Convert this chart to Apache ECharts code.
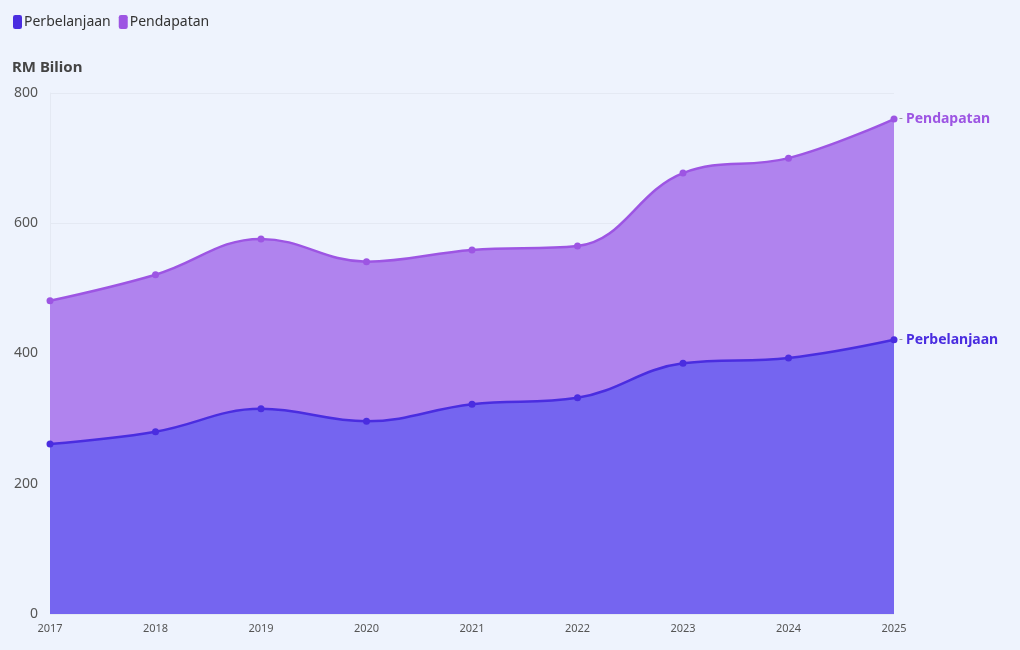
<!DOCTYPE html>
<html>
<head>
<meta charset="utf-8">
<script src="https://cdn.jsdelivr.net/npm/echarts@6/dist/echarts.min.js"></script>
<style>
  html, body { margin: 0; padding: 0; background: #eef3fd; }
  #chart { width: 1020px; height: 650px; }
</style>
</head>
<body>
<div id="chart"></div>
<script>
// values in RM billion
const years = ['2017', '2018', '2019', '2020', '2021', '2022', '2023', '2024', '2025'];
const perbelanjaan = [261, 280, 315, 296, 322, 332, 385, 393, 421];
// stacked on top of perbelanjaan
const pendapatan = [220, 241, 261, 245, 237, 233, 292, 307, 339];
const yTicks = [0, 200, 400, 600, 800];

const font = 'Noto Sans';
const chart = echarts.init(document.getElementById('chart'));

function endLabel(color) {
  return {
    show: true,
    distance: 5,
    formatter: '{d|-} {n|{a}}',
    rich: {
      d: { color: '#9a9a9a', fontSize: 12, fontFamily: font },
      n: { color: color, fontSize: 14, fontWeight: 'bold', fontFamily: font }
    }
  };
}

chart.setOption({
  backgroundColor: '#eef3fd',
  textStyle: { fontFamily: font },
  legend: {
    left: 8, top: 10,
    icon: 'roundRect',
    itemWidth: 9, itemHeight: 14,
    itemGap: 8,
    textStyle: { fontSize: 14, color: '#333', fontFamily: font, padding: [0, 0, 0, -3] },
    data: ['Perbelanjaan', 'Pendapatan']
  },
  grid: { left: 50, right: 126, top: 93, bottom: 36 },
  xAxis: {
    type: 'category',
    data: years,
    boundaryGap: false,
    axisLine: { show: false },
    axisTick: { show: false },
    axisLabel: { fontSize: 11, color: '#555', margin: 9, fontFamily: font }
  },
  yAxis: {
    type: 'value',
    min: yTicks[0],
    max: yTicks[yTicks.length - 1],
    interval: 200,
    name: 'RM Bilion',
    nameLocation: 'end',
    nameGap: 18,
    nameTextStyle: { align: 'left', padding: [0, 0, 0, -38], fontSize: 15, fontWeight: 'bold', color: '#444', fontFamily: font },
    axisLine: { show: true, lineStyle: { color: '#e4e9f3' } },
    axisTick: { show: false },
    axisLabel: { fontSize: 14, color: '#555', margin: 12, fontFamily: font },
    splitLine: { lineStyle: { color: '#e4e9f3' } }
  },
  series: [
    {
      name: 'Perbelanjaan',
      type: 'line',
      stack: 'total',
      data: perbelanjaan,
      smooth: 0.4,
      symbol: 'circle',
      symbolSize: 7,
      color: '#4a2de0',
      lineStyle: { width: 2.5, color: '#4a2de0' },
      itemStyle: { color: '#4a2de0' },
      areaStyle: { color: '#7565f0', opacity: 1 },
      endLabel: endLabel('#4a2de0'),
      z: 3
    },
    {
      name: 'Pendapatan',
      type: 'line',
      stack: 'total',
      data: pendapatan,
      smooth: 0.4,
      symbol: 'circle',
      symbolSize: 7,
      color: '#9d55e3',
      lineStyle: { width: 2.5, color: '#9d55e3' },
      itemStyle: { color: '#9d55e3' },
      areaStyle: { color: '#b083ee', opacity: 1 },
      endLabel: endLabel('#9d55e3'),
      z: 2
    }
  ]
});
</script>
</body>
</html>
